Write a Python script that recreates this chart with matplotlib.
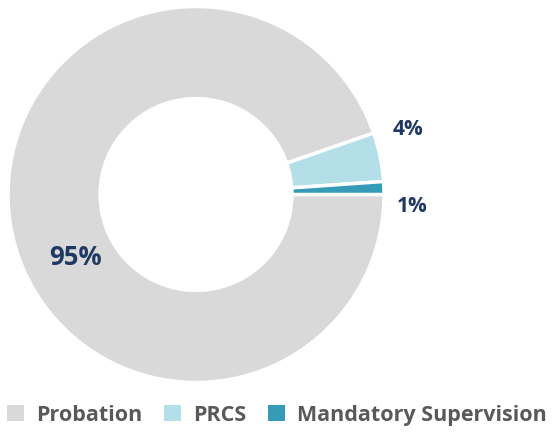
import matplotlib.pyplot as plt
from matplotlib.patches import Patch

# data
categories = ["Probation", "PRCS", "Mandatory Supervision"]
values = [94.7, 4.2, 1.1]
labels = ["95%", "4%", "1%"]
colors = ["#d9d9d9", "#b5dfe8", "#369bb6"]

plt.rcParams['font.family'] = ['Open Sans', 'DejaVu Sans']

fig = plt.figure(figsize=(5.54, 4.35), dpi=100)
# pie area: center (196,195) px, radius 188 px
cx, cy, r = 196, 195.5, 188
W, H = 554, 435
ax = fig.add_axes([(cx - r) / W, (H - cy - r) / H, 2 * r / W, 2 * r / H])

wedges, _ = ax.pie(values, colors=colors, startangle=0, counterclock=False,
                   radius=1, wedgeprops=dict(width=0.49, edgecolor="white", linewidth=2.5))
ax.set_xlim(-1, 1)
ax.set_ylim(-1, 1)
ax.set_aspect("equal")

lab_color = "#1f3864"
ax.text(-0.64, -0.33, labels[0], fontsize=18.5, fontweight="bold", color=lab_color,
        ha="center", va="center")
ax.text(1.13, 0.35, labels[1], fontsize=15, fontweight="bold", color=lab_color,
        ha="center", va="center")
ax.text(1.15, -0.06, labels[2], fontsize=15, fontweight="bold", color=lab_color,
        ha="center", va="center")

handles = [Patch(facecolor=c, edgecolor="none") for c in colors]
leg = fig.legend(handles, categories, loc="center", bbox_to_anchor=(0.5, 1 - 416 / H),
                 ncol=3, frameon=False, fontsize=15.5, handlelength=0.8, handleheight=0.8,
                 handletextpad=0.55, columnspacing=1.0, borderaxespad=0)
for t in leg.get_texts():
    t.set_color("#595959")
    t.set_fontweight("bold")

fig.savefig("out.png", dpi=100)
